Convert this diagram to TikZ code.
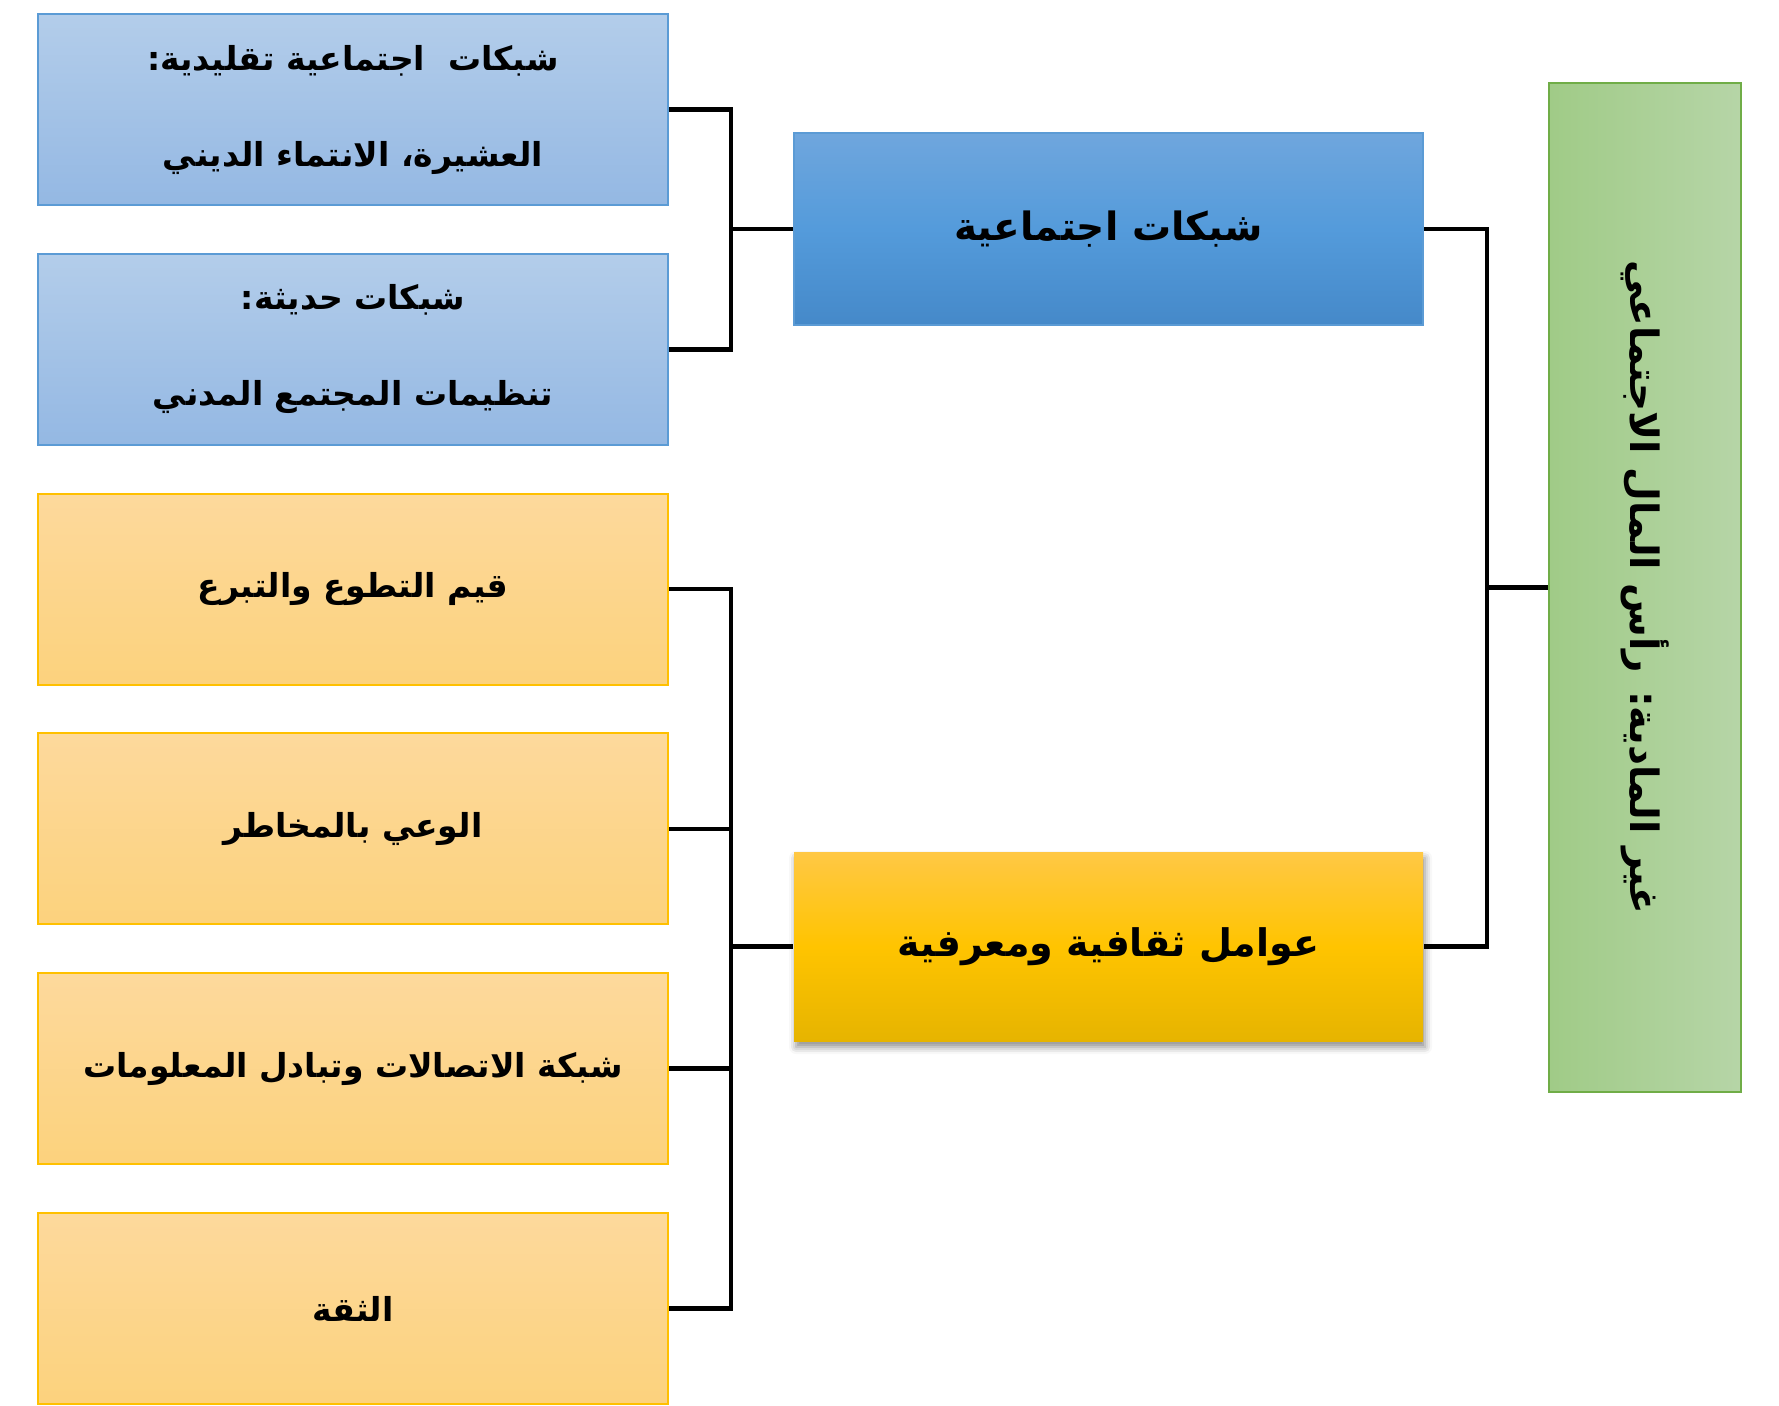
\documentclass[tikz,border=0pt]{standalone}
\usepackage{fontspec}
\usetikzlibrary{shadows.blur}
\TeXXeTstate=1
\newfontfamily\arabicfont[Script=Arabic]{DejaVu Sans}
\definecolor{lbTop}{HTML}{B3CDEA}
\definecolor{lbBot}{HTML}{94B8E3}
\definecolor{lbLine}{HTML}{5B9BD5}
\definecolor{mbTop}{HTML}{6FA6DD}
\definecolor{mbMid}{HTML}{549BDB}
\definecolor{mbBot}{HTML}{4589C9}
\definecolor{loTop}{HTML}{FDD99C}
\definecolor{loBot}{HTML}{FCD27D}
\definecolor{loLine}{HTML}{FFC000}
\definecolor{moTop}{HTML}{FFC845}
\definecolor{moMid}{HTML}{FFC400}
\definecolor{moBot}{HTML}{E6B400}
\definecolor{grL}{HTML}{A0CB87}
\definecolor{grR}{HTML}{B6D5A7}
\definecolor{grLine}{HTML}{70AD47}
\tikzset{
  box/.style={rectangle, inner sep=0pt, line width=2pt, align=center,
    font=\arabicfont\bfseries\fontsize{33}{40}\selectfont},
  leftblue/.style={box, minimum width=630pt, minimum height=191pt, draw=lbLine,
    top color=lbTop, bottom color=lbBot},
  leftorange/.style={box, minimum width=630pt, minimum height=191pt, draw=loLine,
    top color=loTop, bottom color=loBot},
  midblue/.style={box, minimum width=629pt, minimum height=192pt, draw=lbLine,
    top color=mbTop, bottom color=mbBot, middle color=mbMid,
    font=\arabicfont\bfseries\fontsize{39}{46}\selectfont},
  midorange/.style={box, minimum width=629pt, minimum height=189pt, draw=none,
    top color=moTop, bottom color=moBot, middle color=moMid,
    blur shadow={shadow xshift=2pt, shadow yshift=-6pt, shadow blur radius=7pt, shadow opacity=45},
    font=\arabicfont\bfseries\fontsize{38}{44}\selectfont},
  greenbox/.style={box, minimum width=192pt, minimum height=1009pt, draw=grLine,
    left color=grL, right color=grR,
    font=\arabicfont\bfseries\fontsize{39}{45}\selectfont},
  link/.style={draw=black, line width=4.7pt},
}
\begin{document}
\begin{tikzpicture}[x=1pt, y=-1pt]
\useasboundingbox (0,0) rectangle (1779,1405);
% left column
\node[leftblue] (b1) at (353,109.5) {\beginR شبكات\ \ اجتماعية تقليدية:\endR\\[56pt]\beginR العشيرة، الانتماء الديني\endR};
\node[leftblue] (b2) at (353,349.3) {\beginR شبكات حديثة:\endR\\[56pt]\beginR تنظيمات المجتمع المدني\endR};
\node[leftorange] (o1) at (353,589.1) {\beginR قيم التطوع والتبرع\endR};
\node[leftorange] (o2) at (353,828.9) {\beginR الوعي بالمخاطر\endR};
\node[leftorange] (o3) at (353,1068.7) {\beginR شبكة الاتصالات وتبادل المعلومات\endR};
\node[leftorange] (o4) at (353,1308.5) {\beginR الثقة\endR};
% middle column
\node[midblue] (mb) at (1108.5,229) {\beginR شبكات اجتماعية\endR};
\node[midorange] (mo) at (1108.5,946.5) {\beginR عوامل ثقافية ومعرفية\endR};
% right column
\node[greenbox] (g) at (1645,587.5)
  {\rotatebox{-90}{\beginR غير المادية: رأس المال الاجتماعي\endR}};
% junctions
\coordinate (j1) at (731,229);
\coordinate (j2) at (731,946.5);
\coordinate (j3) at (1487,587.5);
% connectors
\draw[link] (b1.east) -| (j1);
\draw[link] (b2.east) -| (j1);
\draw[link] (j1) -- (mb.west);
\draw[link] (o1.east) -| (j2);
\draw[link] (o4.east) -| (j2);
\draw[link] (o2.east) -- (o2.east -| j2);
\draw[link] (o3.east) -- (o3.east -| j2);
\draw[link] (j2) -- (mo.west);
\draw[link] (mb.east) -| (j3);
\draw[link] (mo.east) -| (j3);
\draw[link] (j3) -- (g.west);
\end{tikzpicture}
\end{document}
